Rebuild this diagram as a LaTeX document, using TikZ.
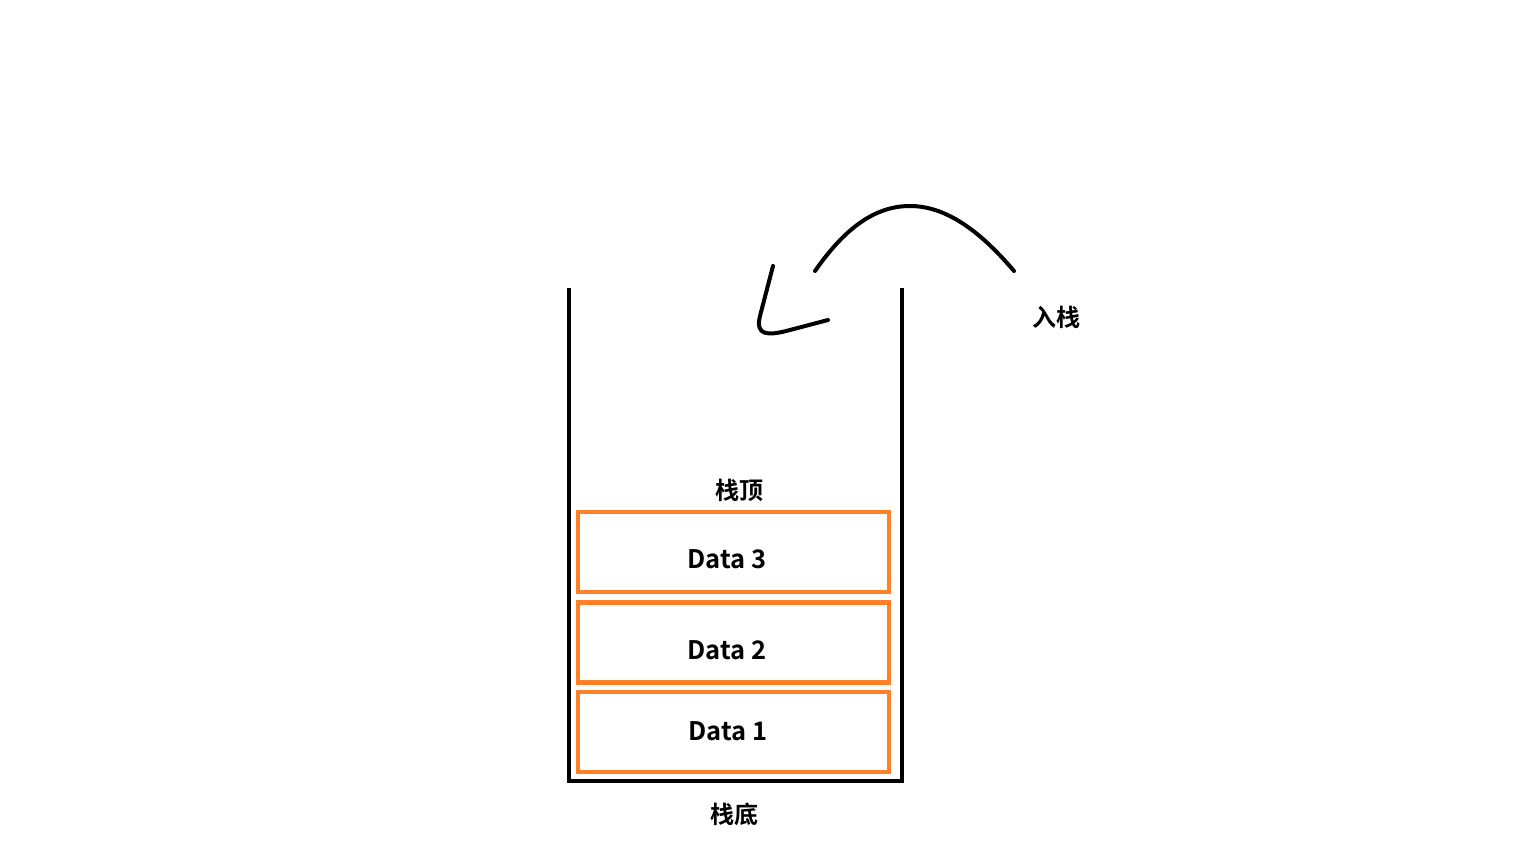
\documentclass[tikz,border=0pt]{standalone}
\usepackage{fontspec}
\setmainfont{Noto Sans CJK SC}[BoldFont={* Bold}]
\newfontfamily\cjk{Noto Sans CJK SC Bold}
\definecolor{stkorange}{RGB}{255,128,39}
\begin{document}
\begin{tikzpicture}[x=1pt,y=-1pt,
  wall/.style={line width=4pt,black},
  databox/.style={draw=stkorange,line width=4.5pt,minimum width=311pt,minimum height=80pt,inner sep=0pt},
  lbl/.style={font=\cjk\fontsize{24}{27}\selectfont,inner sep=0pt},
  dlbl/.style={font=\cjk\fontsize{25.5}{29}\selectfont,inner sep=0pt},
  pen/.style={line width=4pt,black,line cap=round,line join=round}]
\useasboundingbox (0,0) rectangle (1536,864);
% stack container
\draw[wall] (569,288) -- (569,781) -- (902,781) -- (902,288);
% boxes
\node[databox] (b3) at (733.5,552) {};
\node[databox] (b2) at (733.5,642.5) {};
\node[databox] (b1) at (733.5,732) {};
\node[dlbl] (t3) at (727,559) {Data 3};
\node[dlbl] (t2) at (727,650) {Data 2};
\node[dlbl] (t1) at (728,731) {Data 1};
% labels
\node[lbl] (top) at (739,490) {栈顶};
\node[lbl] (bot) at (734,814) {栈底};
\node[lbl] (push) at (1056,317) {入栈};
% hand-drawn arrow
\draw[pen] (815,271) .. controls (845,228) and (875,206) .. (910,206)
  .. controls (950,206) and (985,237) .. (1014,271);
\draw[pen] (773,266) -- (760,316) .. controls (755,336) and (768,336) .. (790,330) -- (828,320);
\end{tikzpicture}
\end{document}
